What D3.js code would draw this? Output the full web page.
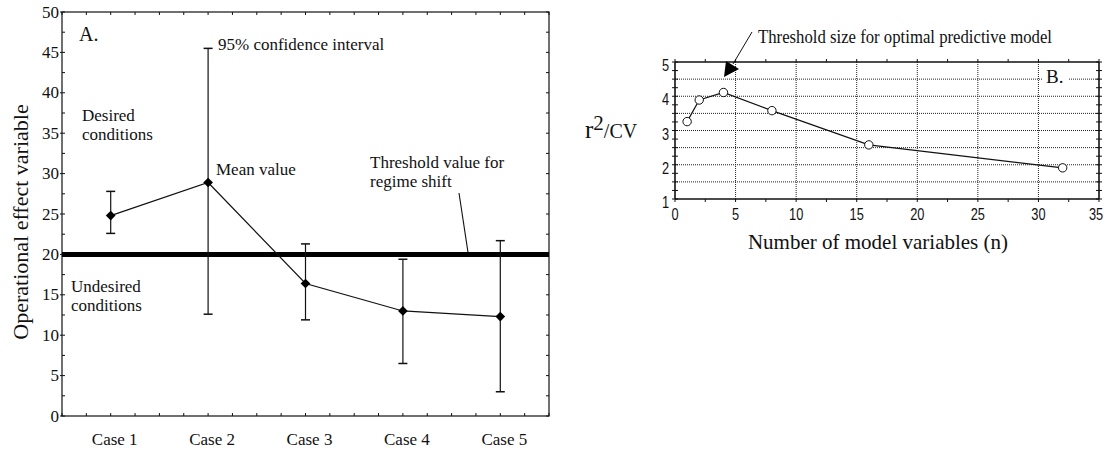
<!DOCTYPE html>
<html>
<head>
<meta charset="utf-8">
<script src="https://cdn.jsdelivr.net/npm/d3@7"></script>
<style>
  body { margin: 0; background: #fff; }
  svg { display: block; }
  text { font-family: "Liberation Serif", "Times New Roman", serif; fill: #111; }
  .sans { font-family: "Liberation Sans", Arial, sans-serif; }
</style>
</head>
<body>
<svg id="chart" width="1104" height="451"></svg>
<script>
// panel A: operational effect variable per case
const caseLabels = ["Case 1", "Case 2", "Case 3", "Case 4", "Case 5"];
const caseMeans = [24.8, 28.9, 16.4, 13.0, 12.3];
const caseUpper = [27.8, 45.5, 21.3, 19.4, 21.7];
const caseLower = [22.6, 12.6, 11.9, 6.5, 3.0];
const thresholdValue = 20;
const yTicksA = [0, 5, 10, 15, 20, 25, 30, 35, 40, 45, 50];

// panel B: r2/CV against number of model variables
const modelN = [1, 2, 4, 8, 16, 32];
const modelR2CV = [3.26, 3.89, 4.11, 3.58, 2.58, 1.91];
const xTicksB = [0, 5, 10, 15, 20, 25, 30, 35];
const yTicksB = [1, 2, 3, 4, 5];

const svg = d3.select("#chart");

// ---------- panel A ----------
const A = { left: 62, right: 549, top: 12, bottom: 416 };
const xA = d3.scaleLinear().domain([0.5, 5.5]).range([A.left, A.right]);
const yA = d3.scaleLinear().domain([0, 50]).range([A.bottom, A.top]);
const gA = svg.append("g");

gA.append("rect")
    .attr("x", A.left).attr("y", A.top)
    .attr("width", A.right - A.left).attr("height", A.bottom - A.top)
    .attr("fill", "none").attr("stroke", "#111").attr("stroke-width", 1.2);

const minorX = d3.range(0.5, 5.51, 0.25);
const minorY = d3.range(0, 50.1, 2.5);
// inside ticks on all four sides
gA.selectAll(".tb").data(minorX).enter().append("line")
    .attr("x1", d => xA(d)).attr("x2", d => xA(d))
    .attr("y1", A.bottom).attr("y2", A.bottom - 3)
    .attr("stroke", "#111");
gA.selectAll(".tt").data(minorX).enter().append("line")
    .attr("x1", d => xA(d)).attr("x2", d => xA(d))
    .attr("y1", A.top).attr("y2", A.top + 3)
    .attr("stroke", "#111");
gA.selectAll(".tl").data(minorY).enter().append("line")
    .attr("x1", d => A.left - (d % 5 === 0 ? 2 : 0)).attr("x2", A.left + 3)
    .attr("y1", d => yA(d)).attr("y2", d => yA(d))
    .attr("stroke", "#111");
gA.selectAll(".tr").data(minorY).enter().append("line")
    .attr("x1", A.right).attr("x2", A.right - 3)
    .attr("y1", d => yA(d)).attr("y2", d => yA(d))
    .attr("stroke", "#111");

gA.selectAll(".ylab").data(yTicksA).enter().append("text")
    .attr("x", A.left - 3).attr("y", d => yA(d) + 5.5)
    .attr("text-anchor", "end").attr("font-size", 17).attr("fill", "#222")
    .text(d => d);

gA.selectAll(".xlab").data(caseLabels).enter().append("text")
    .attr("x", (d, i) => xA(i + 1) + 4).attr("y", 445)
    .attr("text-anchor", "middle").attr("font-size", 17)
    .text(d => d);

gA.append("text")
    .attr("transform", "translate(28,222) rotate(-90)")
    .attr("text-anchor", "middle").attr("font-size", 22)
    .text("Operational effect variable");

// threshold line
gA.append("line")
    .attr("x1", A.left).attr("x2", A.right)
    .attr("y1", yA(thresholdValue)).attr("y2", yA(thresholdValue))
    .attr("stroke", "#000").attr("stroke-width", 5);

// error bars
const capW = 4.5;
caseMeans.forEach((m, i) => {
    const x = xA(i + 1);
    gA.append("line").attr("x1", x).attr("x2", x)
        .attr("y1", yA(caseLower[i])).attr("y2", yA(caseUpper[i]))
        .attr("stroke", "#111").attr("stroke-width", 1.2);
    [caseLower[i], caseUpper[i]].forEach(v => {
        gA.append("line").attr("x1", x - capW).attr("x2", x + capW)
            .attr("y1", yA(v)).attr("y2", yA(v))
            .attr("stroke", "#111").attr("stroke-width", 1.5);
    });
});

gA.append("path")
    .datum(caseMeans)
    .attr("d", d3.line().x((d, i) => xA(i + 1)).y(d => yA(d)))
    .attr("fill", "none").attr("stroke", "#111").attr("stroke-width", 1.2);

gA.selectAll(".mk").data(caseMeans).enter().append("path")
    .attr("d", d3.symbol(d3.symbolDiamond2, 60))
    .attr("transform", (d, i) => "translate(" + xA(i + 1) + "," + yA(d) + ")")
    .attr("fill", "#000");

// annotations A
const annA = 17;
gA.append("text").attr("x", 79).attr("y", 41).attr("font-size", 20).text("A.");
gA.append("text").attr("x", 218).attr("y", 50).attr("font-size", annA).text("95% confidence interval");
gA.append("text").attr("x", 82).attr("y", 121).attr("font-size", annA).text("Desired");
gA.append("text").attr("x", 82).attr("y", 140).attr("font-size", annA).text("conditions");
gA.append("text").attr("x", 216).attr("y", 175).attr("font-size", annA).text("Mean value");
gA.append("text").attr("x", 370).attr("y", 168).attr("font-size", annA).text("Threshold value for");
gA.append("text").attr("x", 370).attr("y", 187).attr("font-size", annA).text("regime shift");
gA.append("text").attr("x", 71).attr("y", 292).attr("font-size", annA).text("Undesired");
gA.append("text").attr("x", 71).attr("y", 311).attr("font-size", annA).text("conditions");
gA.append("line")
    .attr("x1", 459).attr("y1", 193).attr("x2", 468).attr("y2", yA(thresholdValue) - 2)
    .attr("stroke", "#111").attr("stroke-width", 1.1);

// ---------- panel B ----------
const B = { left: 675, right: 1099, top: 62, bottom: 199 };
const xB = d3.scaleLinear().domain([0, 35]).range([B.left, B.right]);
const yB = d3.scaleLinear().domain([1, 5]).range([B.bottom, B.top]);
const gB = svg.append("g");

// dotted grid
gB.selectAll(".gh").data(d3.range(1.5, 5, 0.5)).enter().append("line")
    .attr("x1", B.left).attr("x2", B.right)
    .attr("y1", d => yB(d)).attr("y2", d => yB(d))
    .attr("stroke", "#222").attr("stroke-width", 1).attr("stroke-dasharray", "1,1");
gB.selectAll(".gv").data(d3.range(5, 35, 5)).enter().append("line")
    .attr("x1", d => xB(d)).attr("x2", d => xB(d))
    .attr("y1", B.top).attr("y2", B.bottom)
    .attr("stroke", "#222").attr("stroke-width", 1).attr("stroke-dasharray", "1,1");

const frame = [
    [B.left, B.top, B.right, B.top],
    [B.left, B.bottom, B.right, B.bottom],
    [B.left, B.top, B.left, B.bottom],
    [B.right, B.top, B.right, B.bottom]
];
gB.selectAll(".fr").data(frame).enter().append("line")
    .attr("x1", d => d[0]).attr("y1", d => d[1]).attr("x2", d => d[2]).attr("y2", d => d[3])
    .attr("stroke", "#111").attr("stroke-width", 1.6);

const bTx = d3.range(0, 35.1, 2.5);
gB.selectAll(".bt").data(bTx).enter().append("line")
    .attr("x1", d => xB(d)).attr("x2", d => xB(d))
    .attr("y1", B.top).attr("y2", B.top - 3)
    .attr("stroke", "#111");
gB.selectAll(".bb").data(bTx).enter().append("line")
    .attr("x1", d => xB(d)).attr("x2", d => xB(d))
    .attr("y1", B.bottom).attr("y2", B.bottom + 3)
    .attr("stroke", "#111");
const bTy = d3.range(1, 5.01, 0.25);
gB.selectAll(".bl").data(bTy).enter().append("line")
    .attr("x1", B.left - 3).attr("x2", B.left + 3)
    .attr("y1", d => yB(d)).attr("y2", d => yB(d))
    .attr("stroke", "#111");
gB.selectAll(".br").data(bTy).enter().append("line")
    .attr("x1", B.right - 3).attr("x2", B.right + 3)
    .attr("y1", d => yB(d)).attr("y2", d => yB(d))
    .attr("stroke", "#111");

// narrow screen-font style tick labels
gB.selectAll(".bxl").data(xTicksB).enter().append("text")
    .attr("class", "sans")
    .attr("transform", d => "translate(" + Math.min(xB(d), 1096) + ",220) scale(0.8,1)")
    .attr("text-anchor", "middle").attr("font-size", 16).attr("fill", "#333")
    .text(d => d);
gB.selectAll(".byl").data(yTicksB).enter().append("text")
    .attr("class", "sans")
    .attr("transform", d => "translate(" + (B.left - 6) + "," + (yB(d) + 9) + ") scale(0.8,1)")
    .attr("text-anchor", "end").attr("font-size", 16).attr("fill", "#333")
    .text(d => d);

gB.append("text")
    .attr("x", 878).attr("y", 249)
    .attr("text-anchor", "middle").attr("font-size", 21)
    .text("Number of model variables (n)");

const yLabB = gB.append("text").attr("x", 585).attr("y", 138).attr("font-size", 25);
yLabB.append("tspan").text("r");
yLabB.append("tspan").attr("dy", -8).attr("font-size", 21).text("2");
yLabB.append("tspan").attr("dy", 8).attr("font-size", 20).text("/CV");

gB.append("path")
    .datum(modelN.map((n, i) => [n, modelR2CV[i]]))
    .attr("d", d3.line().x(d => xB(d[0])).y(d => yB(d[1])))
    .attr("fill", "none").attr("stroke", "#111").attr("stroke-width", 1.2);

gB.selectAll(".pt").data(modelN).enter().append("circle")
    .attr("cx", d => xB(d)).attr("cy", (d, i) => yB(modelR2CV[i]))
    .attr("r", 4.2).attr("fill", "#fff").attr("stroke", "#111").attr("stroke-width", 1);

// B. label with white knockout over the grid
gB.append("rect").attr("x", 1043).attr("y", 68).attr("width", 26).attr("height", 18).attr("fill", "#fff");
gB.append("text").attr("x", 1046).attr("y", 83).attr("font-size", 19).text("B.");

// arrow annotation
gB.append("line").attr("x1", 752).attr("y1", 32).attr("x2", 733).attr("y2", 64)
    .attr("stroke", "#111").attr("stroke-width", 1);
gB.append("path")
    .attr("d", "M724,77 L726,61 L739,69 Z")
    .attr("fill", "#000");
gB.append("text").attr("x", 758).attr("y", 43).attr("font-size", 18)
    .attr("textLength", 294).attr("lengthAdjust", "spacingAndGlyphs")
    .text("Threshold size for optimal predictive model");
</script>
</body>
</html>
